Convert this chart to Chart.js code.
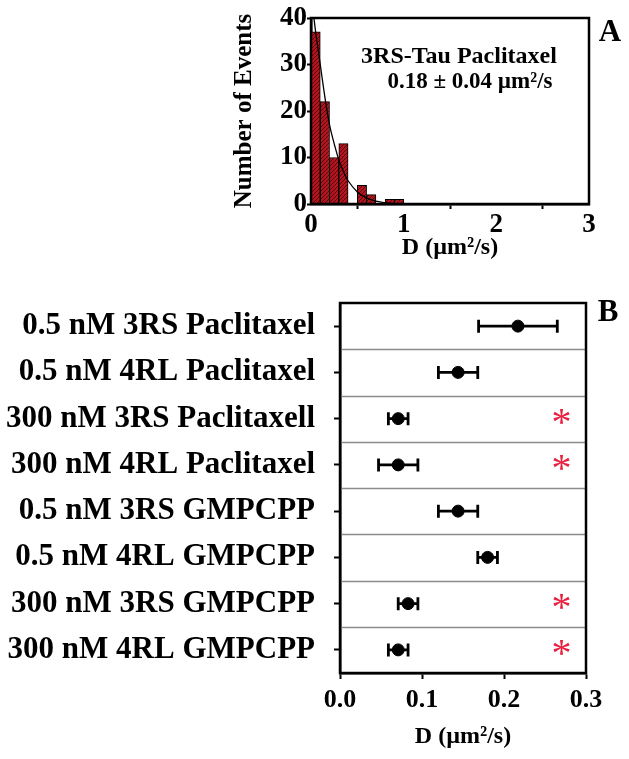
<!DOCTYPE html>
<html>
<head>
<meta charset="utf-8">
<script src="https://cdn.jsdelivr.net/npm/chart.js@4.4.1/dist/chart.umd.min.js"></script>
<style>
html, body { margin: 0; padding: 0; background: #fff; }
#wrapA { position: absolute; left: 0; top: 0; }
#wrapB { position: absolute; left: 0; top: 262px; }
</style>
</head>
<body>
<div id="wrapA"><canvas id="histChart" width="629" height="262"></canvas></div>
<div id="wrapB"><canvas id="dotChart" width="629" height="497"></canvas></div>
<script>
// ==========================
// DATA - panel A (histogram)
// ==========================
const binCenters = [0.05, 0.15, 0.25, 0.35, 0.45, 0.55, 0.65, 0.75, 0.85, 0.95];
const binCounts = [37, 22, 10, 13, 0, 4, 2, 0, 1, 1];
const fitX = [0.02, 0.05, 0.1, 0.15, 0.2, 0.25, 0.3, 0.35, 0.4, 0.5, 0.6, 0.7, 0.8, 0.9, 1.0];
const fitY = [42, 37, 30, 23, 17, 13, 9.5, 7, 5, 2.6, 1.3, 0.6, 0.3, 0.1, 0.05];

// ==========================
// DATA - panel B (dot plot)
// ==========================
const conditions = [
    "0.5 nM 3RS Paclitaxel",
    "0.5 nM 4RL Paclitaxel",
    "300 nM 3RS Paclitaxell",
    "300 nM 4RL Paclitaxel",
    "0.5 nM 3RS GMPCPP",
    "0.5 nM 4RL GMPCPP",
    "300 nM 3RS GMPCPP",
    "300 nM 4RL GMPCPP"
];
const meanD = [0.217, 0.144, 0.071, 0.071, 0.144, 0.180, 0.083, 0.071];
const errD = [0.048, 0.024, 0.012, 0.024, 0.024, 0.012, 0.012, 0.012];
const significant = [false, false, true, true, false, false, true, true];
const starX = 0.27;

const SERIF = "'Liberation Serif', 'Times New Roman', serif";
Chart.defaults.font.family = SERIF;
Chart.defaults.font.weight = "bold";
Chart.defaults.color = "#000";

// ==========================
// HELPERS / PLUGINS
// ==========================
function pinAxis(size, horizontal) {
    return function (s) {
        if (horizontal) s.height = size; else s.width = size;
        s.paddingTop = 0; s.paddingBottom = 0; s.paddingLeft = 0; s.paddingRight = 0;
    };
}

const frameBox = {
    id: "frameBox",
    afterDraw(chart) {
        const { ctx, chartArea: a } = chart;
        ctx.save();
        ctx.strokeStyle = "#000";
        ctx.lineWidth = 2.5;
        ctx.strokeRect(a.left, a.top, a.right - a.left, a.bottom - a.top);
        ctx.restore();
    }
};

function textPlugin(id, items) {
    return {
        id,
        afterDraw(chart) {
            const ctx = chart.ctx;
            ctx.save();
            items.forEach(t => {
                ctx.font = "bold " + t.size + "px " + SERIF;
                ctx.fillStyle = "#000";
                ctx.textAlign = "center";
                ctx.textBaseline = "middle";
                ctx.fillText(t.text, t.x, t.y);
            });
            ctx.restore();
        }
    };
}

function makeHatch() {
    const c = document.createElement("canvas");
    c.width = 4; c.height = 4;
    const g = c.getContext("2d");
    g.fillStyle = "#b3141d";
    g.fillRect(0, 0, 4, 4);
    g.strokeStyle = "#3a0608";
    g.lineWidth = 0.8;
    g.beginPath();
    g.moveTo(0, 4); g.lineTo(4, 0);
    g.moveTo(-1, 1); g.lineTo(1, -1);
    g.moveTo(3, 5); g.lineTo(5, 3);
    g.stroke();
    return document.getElementById("histChart").getContext("2d").createPattern(c, "repeat");
}

// ==========================
// PANEL A
// ==========================
new Chart(document.getElementById("histChart"), {
    type: "bar",
    data: {
        datasets: [
            {
                type: "line",
                data: fitX.map((x, i) => ({ x, y: fitY[i] })),
                borderColor: "#000",
                borderWidth: 1.3,
                pointRadius: 0,
                tension: 0.4,
                order: 0
            },
            {
                data: binCenters.map((x, i) => ({ x, y: binCounts[i] })),
                backgroundColor: makeHatch(),
                borderColor: "#000",
                borderWidth: 1,
                barPercentage: 1,
                categoryPercentage: 1,
                grouped: false,
                order: 1
            }
        ]
    },
    options: {
        responsive: false,
        animation: false,
        devicePixelRatio: 1,
        layout: { padding: { left: 230, right: 40, top: 18, bottom: 0 } },
        plugins: { legend: { display: false }, tooltip: { enabled: false } },
        scales: {
            x: {
                type: "linear",
                offset: false,
                min: 0, max: 3,
                ticks: { stepSize: 1, padding: 0, font: { size: 27 }, callback: v => v },
                grid: { display: true, drawOnChartArea: false, tickLength: 5, tickWidth: 2, color: "#000" },
                border: { color: "#000", width: 2.5 },
                title: { display: true, text: "D (\u00b5m\u00b2/s)", font: { size: 24 }, padding: 0 },
                afterFit: pinAxis(58, true)
            },
            y: {
                min: 0, max: 40,
                ticks: { stepSize: 10, padding: 0, font: { size: 27 } },
                grid: { display: true, drawOnChartArea: false, tickLength: 4, tickWidth: 2, color: "#000" },
                border: { color: "#000", width: 2.5 },
                title: { display: true, text: "Number of Events", font: { size: 25 }, padding: 0 },
                afterFit: pinAxis(81, false)
            }
        }
    },
    plugins: [frameBox, textPlugin("labelsA", [
        { text: "3RS-Tau Paclitaxel", x: 459, y: 57, size: 24 },
        { text: "0.18 \u00b1 0.04 \u00b5m\u00b2/s", x: 470, y: 82, size: 23 },
        { text: "A", x: 610, y: 33, size: 31 }
    ])]
});

// ==========================
// PANEL B
// ==========================
const rowLines = {
    id: "rowLines",
    beforeDatasetsDraw(chart) {
        const { ctx, chartArea: a, scales: { y } } = chart;
        ctx.save();
        ctx.strokeStyle = "#8c8c8c";
        ctx.lineWidth = 1.5;
        for (let i = 0; i < conditions.length - 1; i++) {
            const yy = Math.round(y.getPixelForValue(i + 0.5)) + 0.5;
            ctx.beginPath(); ctx.moveTo(a.left, yy); ctx.lineTo(a.right, yy); ctx.stroke();
        }
        ctx.restore();
    }
};

const errorBars = {
    id: "errorBars",
    beforeDatasetsDraw(chart) {
        const { ctx, scales: { x, y } } = chart;
        ctx.save();
        ctx.strokeStyle = "#000";
        ctx.lineWidth = 2.8;
        meanD.forEach((m, i) => {
            const yy = y.getPixelForValue(i);
            const x1 = x.getPixelForValue(m - errD[i]);
            const x2 = x.getPixelForValue(m + errD[i]);
            ctx.beginPath();
            ctx.moveTo(x1, yy); ctx.lineTo(x2, yy);
            ctx.moveTo(x1, yy - 6.5); ctx.lineTo(x1, yy + 6.5);
            ctx.moveTo(x2, yy - 6.5); ctx.lineTo(x2, yy + 6.5);
            ctx.stroke();
        });
        ctx.restore();
    }
};

const stars = {
    id: "stars",
    afterDatasetsDraw(chart) {
        const { ctx, scales: { x, y } } = chart;
        ctx.save();
        ctx.fillStyle = "#e8203f";
        ctx.font = "40px " + SERIF;
        ctx.textAlign = "center";
        ctx.textBaseline = "middle";
        significant.forEach((s, i) => {
            if (s) ctx.fillText("*", x.getPixelForValue(starX), y.getPixelForValue(i) + 6);
        });
        ctx.restore();
    }
};

new Chart(document.getElementById("dotChart"), {
    type: "scatter",
    data: {
        datasets: [{
            data: meanD.map((m, i) => ({ x: m, y: i })),
            backgroundColor: "#000",
            borderColor: "#000",
            pointRadius: 6
        }]
    },
    options: {
        responsive: false,
        animation: false,
        devicePixelRatio: 1,
        layout: { padding: { left: 0, right: 43, top: 41, bottom: 0 } },
        plugins: { legend: { display: false }, tooltip: { enabled: false } },
        scales: {
            x: {
                type: "linear",
                min: 0, max: 0.3,
                ticks: { stepSize: 0.1, padding: 6, font: { size: 26 }, callback: v => v.toFixed(1) },
                grid: { display: true, drawOnChartArea: false, tickLength: 6, tickWidth: 2, color: "#000" },
                border: { color: "#000", width: 2.5 },
                title: { display: true, text: "D (\u00b5m\u00b2/s)", font: { size: 24 }, padding: { top: 0, bottom: 8 } },
                afterFit: pinAxis(86, true)
            },
            y: {
                type: "linear",
                min: -0.5, max: 7.5,
                reverse: true,
                afterBuildTicks: s => { s.ticks = conditions.map((_, i) => ({ value: i })); },
                ticks: { padding: 19, font: { size: 31 }, callback: v => conditions[v] },
                grid: { display: true, drawOnChartArea: false, tickLength: 6, tickWidth: 2, color: "#000" },
                border: { color: "#000", width: 2.5 },
                afterFit: pinAxis(340, false)
            }
        }
    },
    plugins: [rowLines, errorBars, stars, frameBox, textPlugin("labelsB", [
        { text: "B", x: 608, y: 51, size: 31 }
    ])]
});
</script>
</body>
</html>
